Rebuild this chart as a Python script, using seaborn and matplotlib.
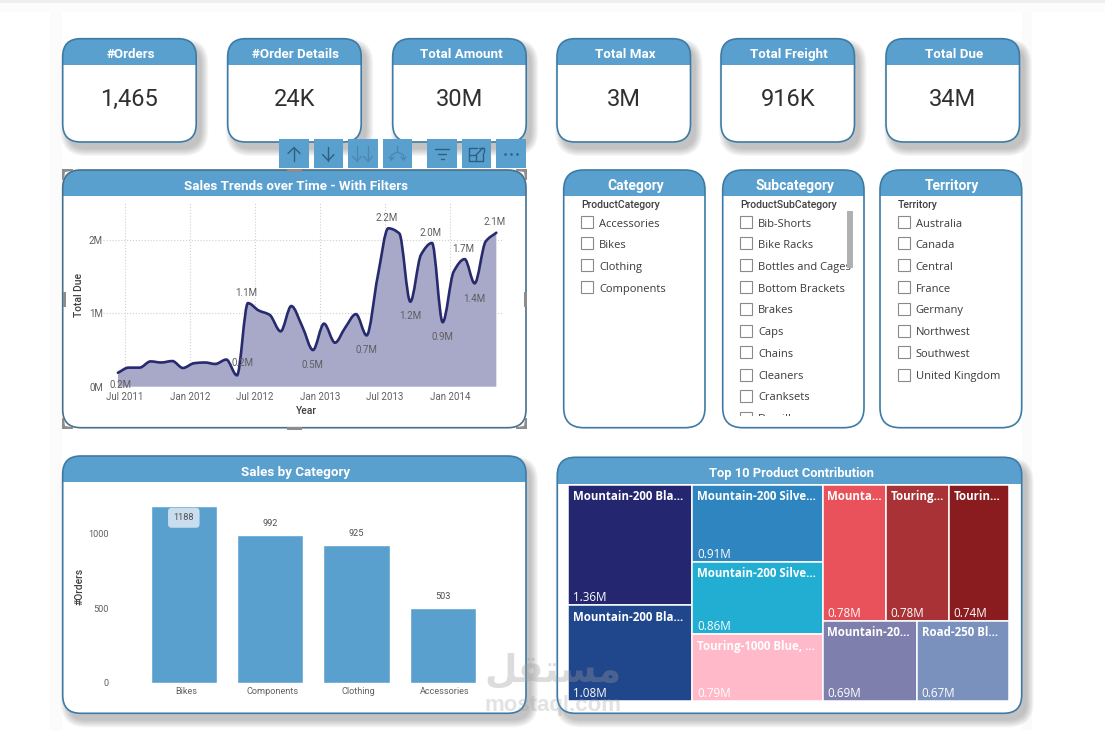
import numpy as np
import pandas as pd
import matplotlib
matplotlib.use("Agg")
import matplotlib.pyplot as plt
import matplotlib.dates as mdates
from matplotlib.patches import FancyBboxPatch, Rectangle, PathPatch, Polygon
from matplotlib.path import Path
from matplotlib.transforms import ScaledTranslation
import seaborn as sns

# KPI cards
card_titles = ["#Orders", "#Order Details", "Total Amount", "Total Max", "Total Freight", "Total Due"]
card_values = ["1,465", "24K", "30M", "3M", "916K", "34M"]

# Monthly total due, in millions
trend_start = "2011-06-11"
trend_due = [0.19, 0.26, 0.26, 0.345, 0.33, 0.35, 0.255, 0.32, 0.33, 0.31, 0.37, 0.155,
             1.14, 1.04, 0.98, 0.755, 1.10, 0.82, 0.50, 0.86, 0.60, 0.80, 0.99, 0.70,
             1.50, 2.16, 2.09, 1.16, 1.80, 1.96, 0.88, 1.57, 1.74, 1.41, 1.98, 2.10]
# month index -> label placement (above / below)
trend_callouts = {0: "below", 11: "right", 12: "above", 18: "below", 23: "below", 25: "above",
                  27: "below", 29: "above", 30: "below", 32: "above", 33: "below", 35: "above"}

# Orders per category
bar_categories = ["Bikes", "Components", "Clothing", "Accessories"]
bar_orders = [1188, 992, 925, 503]

# Slicers
category_items = ["Accessories", "Bikes", "Clothing", "Components"]
subcategory_items = ["Bib-Shorts", "Bike Racks", "Bottles and Cages", "Bottom Brackets", "Brakes",
                     "Caps", "Chains", "Cleaners", "Cranksets", "Derailleurs"]
territory_items = ["Australia", "Canada", "Central", "France", "Germany", "Northwest",
                   "Southwest", "United Kingdom"]

# Treemap leaves: shown name, value in millions, colour
tree_names = ["Mountain-200 Bla...", "Mountain-200 Bla...", "Mountain-200 Silve...", "Mountain-200 Silve...",
              "Touring-1000 Blue, ...", "Mounta...", "Touring...", "Tourin...", "Mountain-20...", "Road-250 Bl..."]
tree_values = [1.36, 1.08, 0.91, 0.86, 0.79, 0.78, 0.78, 0.74, 0.69, 0.67]
tree_colors = ["#24266F", "#20468C", "#2F85BF", "#22ADD2", "#FFB9C8",
               "#E9525A", "#A83236", "#8A1C20", "#7F7FAD", "#7A90BD"]

HEADER = "#5AA0CF"
BORDER = "#3C7BA6"
TITLE_FONT = "Roboto"
BODY_FONT = "Open Sans"

sns.set_theme(style="white")
plt.rcParams["font.family"] = ["Roboto", "DejaVu Sans"]

W, H = 1105, 730
fig = plt.figure(figsize=(W / 100, H / 100), dpi=100, facecolor="white")


def px_axes(left, top, right, bottom, zorder=1):
    """Axes placed by its pixel box, measured from the top-left of the figure."""
    ax = fig.add_axes([left / W, 1 - bottom / H, (right - left) / W, (bottom - top) / H], zorder=zorder)
    ax.patch.set_alpha(0)
    return ax


# Page layer, addressed in pixels
page = px_axes(0, 0, W, H, zorder=0)
page.set_xlim(0, W)
page.set_ylim(H, 0)
page.axis("off")

page.add_patch(Rectangle((0, 0), W, 3, fc="#EFEFEF", ec="none"))
page.add_patch(Rectangle((0, 3), W, 9, fc="#FCFCFC", ec="none"))
page.add_patch(Rectangle((50, 12), 12, H, fc="#FBFBFB", ec="none"))
page.add_patch(Rectangle((1022, 12), 10, H, fc="#FBFBFB", ec="none"))


def rounded(x0, y0, x1, y1, r, **kw):
    return FancyBboxPatch((x0, y0), x1 - x0, y1 - y0, boxstyle=f"round,pad=0,rounding_size={r}",
                          mutation_aspect=1, **kw)


def tile(x0, y0, x1, y1, header_bottom, title, r=18, edge=BORDER, shadow=True, title_size=9.6):
    """Rounded visual container with a coloured heading band and a soft drop shadow."""
    if shadow:
        for grow in np.arange(7, -1, -1):
            page.add_patch(rounded(x0 + 5 - grow, y0 + 7 - grow, x1 + 5 + grow, y1 + 7 + grow, r + grow,
                                   fc="#5A5A5A", ec="none", alpha=0.05, zorder=1))
    page.add_patch(rounded(x0, y0, x1, y1, r, fc="white", ec="none", zorder=2))
    band = rounded(x0, y0, x1, y1, r, fc=HEADER, ec="none", zorder=3)
    page.add_patch(band)
    band.set_clip_path(Rectangle((x0 - 2, y0 - 2), x1 - x0 + 4, header_bottom - y0 + 2, transform=page.transData))
    page.add_patch(rounded(x0, y0, x1, y1, r, fc="none", ec=edge, lw=1.2, zorder=4))
    page.text((x0 + x1) / 2 + 1.5, (y0 + header_bottom) / 2 + 3, title, color="white", ha="center", va="center",
              fontsize=title_size, fontweight="bold", family=TITLE_FONT, zorder=5)


# KPI cards
card_lefts = [62.7, 227.7, 392.7, 557, 721, 886]
for left, title, value in zip(card_lefts, card_titles, card_values):
    tile(left, 38.7, left + 133.5, 142, 65, title)
    page.text(left + 66.7, 99, value, color="#303030", ha="center", va="center", fontsize=17, family=TITLE_FONT, zorder=5)

# Chart containers
tile(62.7, 170, 526, 427.7, 196, "Sales Trends over Time - With Filters", edge="#46708C", shadow=False)
tile(62.7, 456, 526, 713.3, 482.3, "Sales by Category")
tile(557.3, 457.3, 1021.7, 713.3, 484, "Top 10 Product Contribution", title_size=9.3)


# Slicers
def slicer(x0, x1, title, field, items):
    tile(x0, 170, x1, 427.7, 196, title, r=20, shadow=False, title_size=10)
    page.text(x0 + 17.5, 205, field, color="#404040", ha="left", va="center", fontsize=7.6,
              fontweight="medium", family=TITLE_FONT, zorder=5)
    clip = Rectangle((x0, 208), x1 - x0, 208, transform=page.transData)
    rows = [222.7, 243.7, 265.7, 287.7, 309.3, 331, 352.7, 375, 396.3, 418]
    for y, item in zip(rows, items):
        box = Rectangle((x0 + 17.5, y - 6.5), 12, 12, fc="white", ec="#8A8A8A", lw=0.8, zorder=5)
        page.add_patch(box)
        box.set_clip_path(clip)
        label = page.text(x0 + 35.5, y + 1.5, item, color="#3A3A3A", ha="left", va="center", fontsize=8.0,
                          family=BODY_FONT, zorder=5, clip_on=True)
        label.set_clip_path(clip)


slicer(563.7, 705, "Category", "ProductCategory", category_items)
slicer(722.7, 864, "Subcategory", "ProductSubCategory", subcategory_items)
slicer(880, 1021.7, "Territory", "Territory", territory_items)
page.add_patch(Rectangle((846.7, 210.7), 6, 57.6, fc="#B0B0B0", ec="none", zorder=6))

# ---- Trend chart ----
ax = px_axes(103, 201.7, 502, 386.7, zorder=2)
dates = pd.date_range(trend_start, periods=len(trend_due), freq=pd.DateOffset(months=1))
trend = pd.DataFrame({"Year": dates, "Total Due": trend_due})
sns.lineplot(data=trend, x="Year", y="Total Due", ax=ax, color="#272B6E", lw=2.0)

# Redraw the seaborn line as a smooth monotone curve with the area beneath it
straight = ax.lines[0]
xs = np.asarray(straight.get_xdata(orig=False), dtype=float)
ys = np.asarray(straight.get_ydata(orig=False), dtype=float)
straight.set_visible(False)
dx = np.diff(xs)
slope = np.diff(ys) / dx
tang = np.zeros_like(ys)
for i in range(1, len(ys) - 1):
    if slope[i - 1] * slope[i] > 0:
        tang[i] = 2 * slope[i - 1] * slope[i] / (slope[i - 1] + slope[i])
tang[0], tang[-1] = slope[0], slope[-1]
verts, codes = [(xs[0], ys[0])], [Path.MOVETO]
for i in range(len(xs) - 1):
    verts += [(xs[i] + dx[i] / 3, ys[i] + tang[i] * dx[i] / 3),
              (xs[i + 1] - dx[i] / 3, ys[i + 1] - tang[i + 1] * dx[i] / 3),
              (xs[i + 1], ys[i + 1])]
    codes += [Path.CURVE4] * 3
area = Path(verts + [(xs[-1], 0), (xs[0], 0), (xs[0], ys[0])], codes + [Path.LINETO] * 3)
ax.add_patch(PathPatch(area, fc="#A8A9C8", ec="none", zorder=2))
ax.add_patch(PathPatch(Path(verts, codes), fc="none", ec="#272B6E", lw=1.9, zorder=3, capstyle="round"))

origin = mdates.date2num(pd.Timestamp("2011-07-01"))
ax.set_xlim(origin - 62, origin + 1061)
ax.set_ylim(0, 2.523)
ax.set_yticks([0, 1, 2])
ax.set_yticklabels(["0M", "1M", "2M"])
ax.set_xticks(mdates.date2num(pd.date_range("2011-07-01", "2014-01-01", freq="6MS")))
ax.xaxis.set_major_formatter(mdates.DateFormatter("%b %Y"))
ax.grid(True, color="#CFCFCF", ls=":", lw=0.8)
ax.set_axisbelow(True)
sns.despine(ax=ax, left=True, bottom=True)
ax.tick_params(axis="both", length=0, labelsize=7, labelcolor="#606060")
ax.tick_params(axis="x", pad=3.5)
ax.tick_params(axis="y", pad=0)
ax.set_xlabel("Year", fontsize=7.4, color="#404040", fontweight="medium", va="center")
ax.set_ylabel("Total Due", fontsize=7.4, color="#404040", fontweight="medium", va="center")
ax.xaxis.set_label_coords(0.511, -0.131)
ax.yaxis.set_label_coords(-0.0594, 0.496)
offsets = {"above": (-1, 7.5), "below": (0, -10.5), "right": (4, 9)}
for idx, where in trend_callouts.items():
    off = offsets[where]
    if idx == 0:
        off = (2, -9)
    if idx == 33:
        off = (0, -11.5)
    ax.annotate(f"{trend_due[idx]:.1f}M", (xs[idx], ys[idx]), xytext=off, textcoords="offset points",
                ha="center", va="center", fontsize=7, color="#5E5E5E", zorder=6, annotation_clip=False)

# ---- Orders by category ----
bx = px_axes(140.6, 494.5, 486.2, 682.7, zorder=2)
orders = pd.DataFrame({"Category": bar_categories, "#Orders": bar_orders})
sns.barplot(data=orders, x="Category", y="#Orders", ax=bx, color=HEADER, saturation=1, width=0.767)
bx.set_xlim(-0.5, 3.5)
bx.set_ylim(0, 1265)
bx.set_yticks([0, 500, 1000])
sns.despine(ax=bx, left=True, bottom=True)
bx.tick_params(axis="both", length=0, labelsize=6.6, labelcolor="#606060")
bx.tick_params(axis="y", pad=23)
bx.tick_params(axis="x", pad=3)
# category names sit slightly right of the bar centres
nudge = ScaledTranslation(2 / 100, 0, fig.dpi_scale_trans)
for tick_label in bx.get_xticklabels():
    tick_label.set_transform(tick_label.get_transform() + nudge)
bx.set_xlabel("")
bx.set_ylabel("#Orders", fontsize=7.4, color="#404040", fontweight="medium", va="center")
bx.yaxis.set_label_coords(-0.1765, 0.511)
for pos, val in enumerate(bar_orders):
    if val == max(bar_orders):
        bx.annotate(str(val), (pos, val), xytext=(0, -8.5), textcoords="offset points", ha="center", va="center",
                    fontsize=6.6, color="#505050",
                    bbox=dict(boxstyle="round,pad=0.6,rounding_size=0.4", fc="#C9DDEE", ec="none"))
    else:
        bx.annotate(str(val), (pos, val), xytext=(0, 8.5), textcoords="offset points", ha="center", va="center",
                    fontsize=6.6, color="#505050")

# ---- Treemap, sliced from the leaf values ----
tx = px_axes(568.3, 484.7, 1009, 701.3, zorder=2)
tx.set_xlim(0, 1)
tx.set_ylim(1, 0)
tx.axis("off")
total = sum(tree_values)
# columns of rows of leaf indices
tree_layout = [[[0], [1]], [[2], [3], [4]], [[5, 6, 7], [8, 9]]]
left = 0.0
for column in tree_layout:
    col_sum = sum(tree_values[i] for row in column for i in row)
    col_w = col_sum / total
    top = 0.0
    for row in column:
        row_sum = sum(tree_values[i] for i in row)
        row_h = row_sum / col_sum
        cell_x = left
        for i in row:
            cell_w = col_w * tree_values[i] / row_sum
            tx.add_patch(Rectangle((cell_x, top), cell_w, row_h, fc=tree_colors[i], ec="white", lw=1.1))
            tx.annotate(tree_names[i], (cell_x, top), xytext=(3.2, -8.5), textcoords="offset points", color="white",
                        fontsize=8.3, fontweight="bold", family=BODY_FONT, ha="left", va="center")
            tx.annotate(f"{tree_values[i]:.2f}M", (cell_x, top + row_h), xytext=(3.2, 5.5), textcoords="offset points",
                        color="white", fontsize=8.4, family=BODY_FONT, ha="left", va="center")
            cell_x += cell_w
        top += row_h
    left += col_w

# ---- Selection chrome and visual toolbar ----
over = px_axes(0, 0, W, H, zorder=5)
over.set_xlim(0, W)
over.set_ylim(H, 0)
over.axis("off")
GRIP = "#8C8C8C"
for x, y, sx, sy in [(62, 169, 1, 1), (527, 169, -1, 1), (62, 429, 1, -1), (527, 429, -1, -1)]:
    over.add_patch(Polygon([(x, y), (x + 11 * sx, y), (x + 11 * sx, y + 1.8 * sy), (x + 3 * sx, y + 3 * sy),
                            (x + 1.8 * sx, y + 11 * sy), (x, y + 11 * sy)], fc=GRIP, ec="none"))
over.add_patch(Rectangle((287, 168.5), 15, 3, fc=GRIP, ec="none"))
over.add_patch(Rectangle((287, 426.5), 15, 3, fc=GRIP, ec="none"))
over.add_patch(Rectangle((62.5, 292), 3, 15, fc=GRIP, ec="none"))
over.add_patch(Rectangle((523.5, 292), 3, 15, fc=GRIP, ec="none"))

buttons = [(279, 309), (314, 342.7), (348, 378), (383, 412), (427, 457), (462, 490.7), (496, 526)]
for b0, b1 in buttons:
    over.add_patch(Rectangle((b0, 139.3), b1 - b0, 28.4, fc=HEADER, ec="none"))
ICON = "#2F5F80"
FAINT = "#4A88B2"


def stroke(pts, color=ICON, lw=1.0):
    over.plot(*zip(*pts), color=color, lw=lw, solid_capstyle="round", solid_joinstyle="round")


cy = 153.5
stroke([(294, 147.5), (294, 161)])
stroke([(288, 153.5), (294, 147.5), (300, 153.5)])
stroke([(328.3, 147), (328.3, 160.5)])
stroke([(322.5, 154.5), (328.3, 160.5), (334, 154.5)])
for x in (357, 368):
    stroke([(x, 146), (x, 161)], FAINT)
    stroke([(x - 4.5, 156.5), (x, 161), (x + 4.5, 156.5)], FAINT)
stroke([(397.5, 146.5), (397.5, 152), (391.5, 155), (391.5, 160)], FAINT)
stroke([(397.5, 152), (403.5, 155), (403.5, 160)], FAINT)
stroke([(389, 157), (391.5, 160), (394, 157)], FAINT)
stroke([(401, 157), (403.5, 160), (406, 157)], FAINT)
stroke([(435, 148.5), (449, 148.5)])
stroke([(438, 153.5), (446, 153.5)])
stroke([(440.5, 158.5), (443.5, 158.5)])
stroke([(477, 148), (469, 148), (469, 161), (483, 161), (483, 153)])
stroke([(469, 154.5), (476, 154.5), (476, 161)])
stroke([(476, 155), (483, 148)])
stroke([(478.5, 147.5), (483.5, 147.5), (483.5, 152)])
over.scatter([505, 511, 517], [cy, cy, cy], s=3.5, color=ICON, linewidths=0)

# Site mark across the lower middle of the page
mark_color = "#9A9A9A"
over.text(552.5, 671, "\ufede\ufed8\ufe98\ufeb4\ufee3", family="DejaVu Sans", fontweight="bold", fontsize=27,
          color=mark_color, alpha=0.34, ha="center", va="center")
over.text(553, 705, "mostaql.com", family="Liberation Sans", fontweight="bold", fontsize=16,
          color=mark_color, alpha=0.28, ha="center", va="center")

fig.savefig("out.png", dpi=100)
